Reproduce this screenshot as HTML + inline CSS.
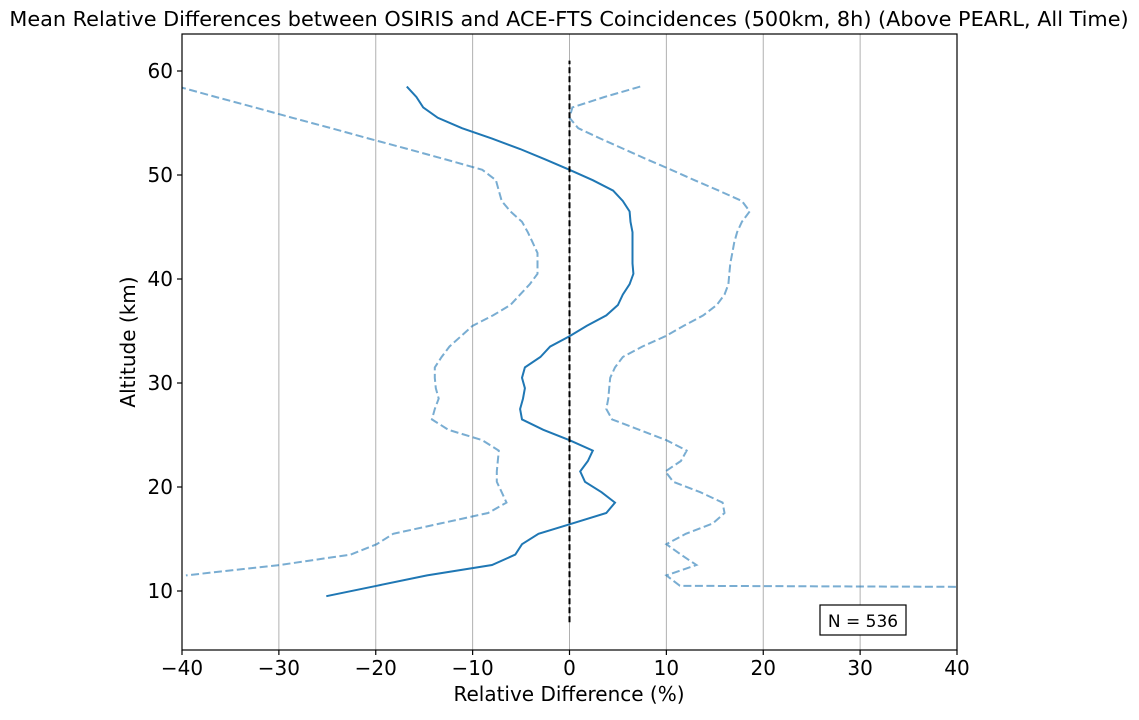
<!DOCTYPE html>
<html><head><meta charset="utf-8"><style>
body{margin:0;background:#fff;}
svg text{font-family:"DejaVu Sans","Liberation Sans",sans-serif;}
</style></head><body>
<svg id="chart" width="1139" height="715" xmlns="http://www.w3.org/2000/svg">
<rect width="1139" height="715" fill="#fff"/>
<text x="569" y="26" font-size="20.8" text-anchor="middle">Mean Relative Differences between OSIRIS and ACE-FTS Coincidences (500km, 8h) (Above PEARL, All Time)</text>
<g id="grid"></g>
<g id="series"></g>
<rect x="182" y="34" width="775" height="616" fill="none" stroke="#000" stroke-width="1.2"/>
<g id="ticks"></g>
<text x="569" y="701" font-size="20" text-anchor="middle">Relative Difference (%)</text>
<text transform="translate(135,342) rotate(-90)" font-size="20" text-anchor="middle">Altitude (km)</text>
<rect x="820" y="605" width="86" height="30" fill="#fff" stroke="#000" stroke-width="1.2"/>
<text x="863" y="627" font-size="17" text-anchor="middle">N = 536</text>
</svg>
<script>
const altitudes=[58.5,57.5,56.5,55.5,54.5,53.5,52.5,51.5,50.5,49.5,48.5,47.5,46.5,45.5,44.5,43.5,42.5,41.5,40.5,39.5,38.5,37.5,36.5,35.5,34.5,33.5,32.5,31.5,30.5,29.5,28.5,27.5,26.5,25.5,24.5,23.5,22.5,21.5,20.5,19.5,18.5,17.5,16.5,15.5,14.5,13.5,12.5,11.5,10.5,9.5];
const meanDiff=[-16.8,-15.8,-15.1,-13.6,-11.1,-8.0,-5.1,-2.5,0.0,2.4,4.5,5.5,6.2,6.3,6.5,6.5,6.5,6.5,6.6,6.2,5.5,5.0,3.8,1.8,0.0,-2.0,-3.0,-4.6,-4.9,-4.6,-4.8,-5.1,-4.9,-2.7,0.0,2.4,1.9,1.1,1.6,3.3,4.7,3.8,0.3,-3.2,-4.9,-5.6,-8.0,-14.7,-19.9,-25.1];
const lowerBound=[-40.4,-36.5,-32.5,-28.6,-24.6,-20.7,-16.7,-12.8,-9.0,-7.6,-7.3,-7.0,-6.1,-4.9,-4.3,-3.8,-3.3,-3.3,-3.3,-4.1,-5.1,-6.1,-7.9,-10.0,-11.2,-12.4,-13.2,-13.9,-13.9,-13.8,-13.5,-13.9,-14.2,-12.5,-9.0,-7.3,-7.4,-7.5,-7.5,-7.0,-6.5,-8.4,-13.3,-18.2,-19.9,-22.6,-29.9,-39.6,null,null];
const upperBound=[7.3,3.6,0.3,0.0,0.9,3.2,5.6,8.0,10.5,12.9,15.4,17.8,18.6,17.8,17.3,17.0,16.8,16.6,16.5,16.4,16.0,15.2,13.8,11.8,9.9,7.5,5.5,4.7,4.2,4.1,4.0,3.8,4.4,7.2,10.0,12.1,11.5,9.9,10.7,13.5,15.8,16.0,14.8,12.0,10.0,11.5,13.1,10.0,11.4,300];
const xTicks=[-40,-30,-20,-10,0,10,20,30,40];
const yTicks=[10,20,30,40,50,60];
const X0=182,X1=957,Y0=34,Y1=650;
const xs=v=>X0+(v+40)/80*(X1-X0);
const ys=a=>591-(a-10)*10.4;
const NS='http://www.w3.org/2000/svg';
function mk(t,attrs,parent){const e=document.createElementNS(NS,t);for(const k in attrs)e.setAttribute(k,attrs[k]);parent.appendChild(e);return e;}
const grid=document.getElementById('grid'),ticks=document.getElementById('ticks'),ser=document.getElementById('series');
xTicks.forEach(t=>{
  const g=mk('line',{x1:xs(t),x2:xs(t),y1:Y0,y2:Y1,stroke:'#b0b0b0','stroke-width':1},grid);
  
  
  const tk=mk('line',{x1:xs(t),x2:xs(t),y1:Y1,y2:Y1+5,stroke:'#000','stroke-width':1.2},ticks);
  
  
  const tx=mk('text',{x:xs(t),y:Y1+25,'font-size':20,'text-anchor':'middle'},ticks);
  
  
  tx.textContent=(t<0?'\u2212'+(-t):t);
});
yTicks.forEach(t=>{
  const tk=mk('line',{x1:X0-5,x2:X0,y1:ys(t),y2:ys(t),stroke:'#000','stroke-width':1.2},ticks);
  
  
  const tx=mk('text',{x:X0-9,y:ys(t)+7,'font-size':20,'text-anchor':'end'},ticks);
  
  
  tx.textContent=t;
});
const cp=mk('clipPath',{id:'clip'},document.getElementById('chart'));
mk('rect',{x:X0,y:Y0,width:X1-X0,height:Y1-Y0},cp);
function path(vals){let d='';let pen=false;vals.forEach((v,i)=>{if(v===null){pen=false;return;}d+=(pen?'L':'M')+xs(v).toFixed(1)+','+ys(altitudes[i]).toFixed(1);pen=true;});return d;}
const lo=mk('path',{d:path(lowerBound),fill:'none',stroke:'#1f77b4','stroke-opacity':0.6,'stroke-width':2,'stroke-dasharray':'8,3.5','clip-path':'url(#clip)'},ser);


const up=mk('path',{d:path(upperBound),fill:'none',stroke:'#1f77b4','stroke-opacity':0.6,'stroke-width':2,'stroke-dasharray':'8,3.5','clip-path':'url(#clip)'},ser);


const mn=mk('path',{d:path(meanDiff),fill:'none',stroke:'#1f77b4','stroke-width':2,'clip-path':'url(#clip)'},ser);


const z=mk('line',{x1:xs(0),x2:xs(0),y1:ys(7),y2:ys(61),stroke:'#000','stroke-width':2,'stroke-dasharray':'6,3'},ser);


</script>
</body></html>
